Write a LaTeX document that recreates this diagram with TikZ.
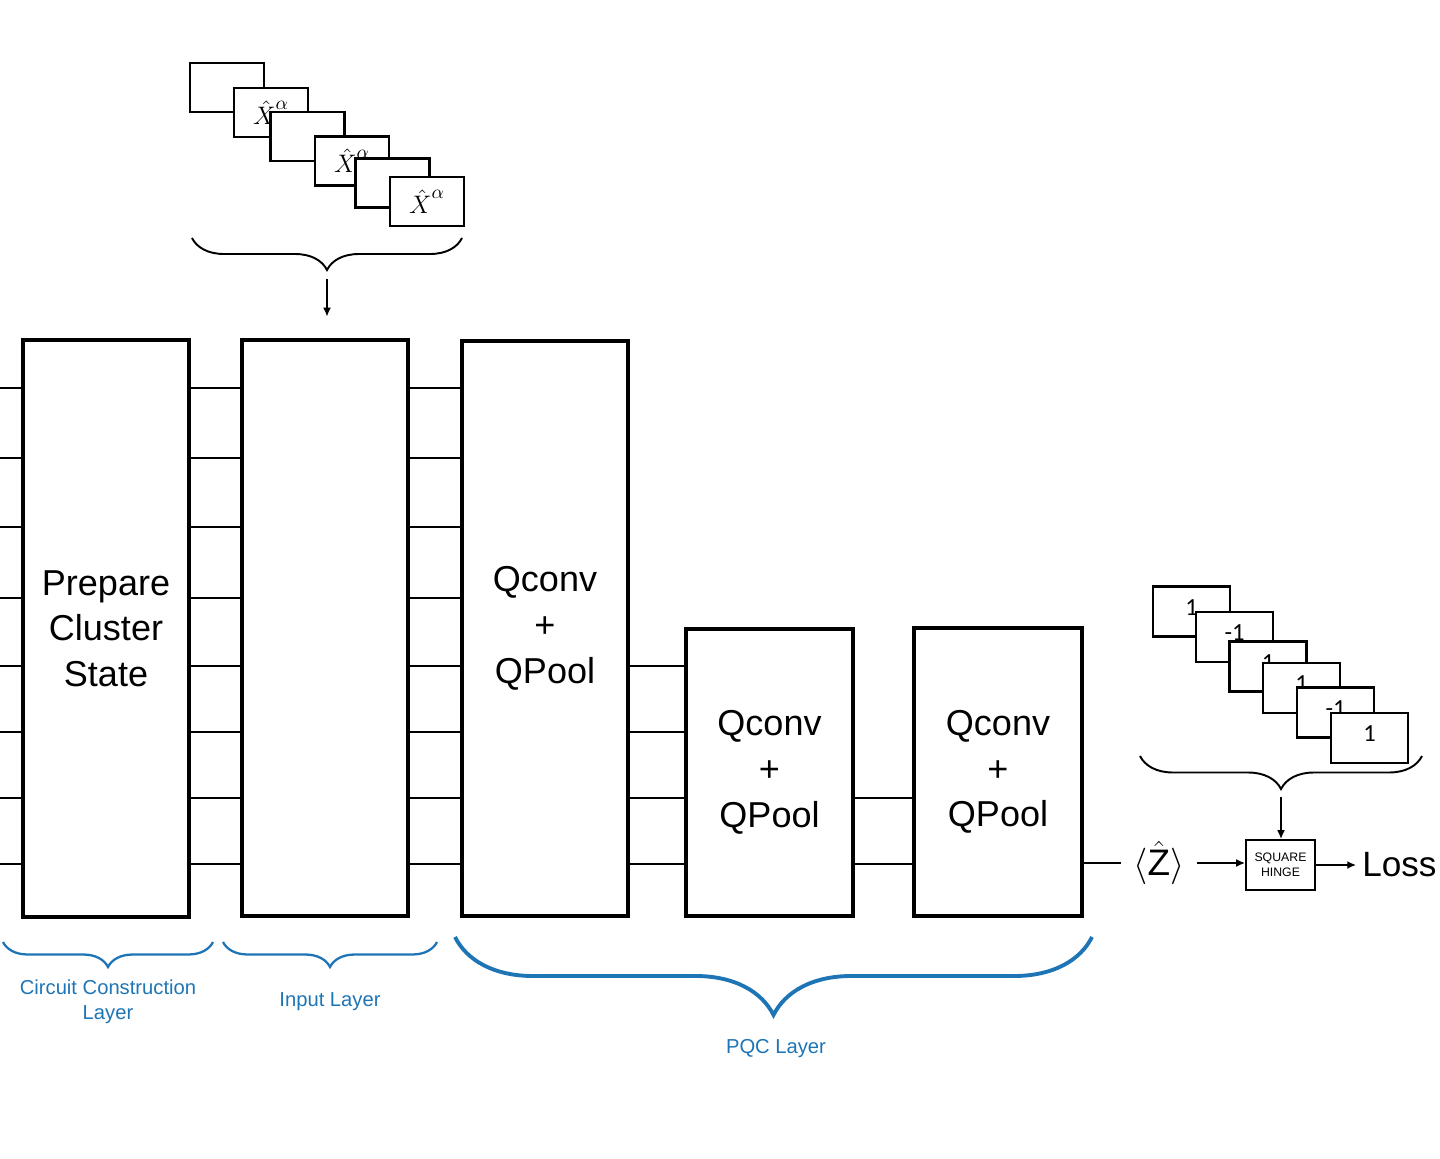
\documentclass[tikz,border=0pt]{standalone}
\usepackage{amsmath}
\usepackage{fontspec}
\setmainfont{Liberation Sans}
\newfontfamily\numfont{Carlito}
\usetikzlibrary{arrows.meta, calc, positioning, decorations.pathreplacing}
\definecolor{layerblue}{RGB}{30,117,182}
\tikzset {
    block/.style = {
        draw,
        shape = rectangle,
        line width = 1.8pt,
        fill = white,
        align = center,
        inner sep = 0pt,
        font = \fontsize{20.5}{26}\selectfont
    },
    card/.style = {
        draw,
        shape = rectangle,
        line width = 1.3pt,
        fill = white,
        minimum width = 1.48cm,
        minimum height = 0.98cm,
        inner sep = 0pt
    },
    xcard/.style = {
        card,
        label = {[font=\fontsize{15}{15}\selectfont]center:$\hat{X}^{\raisebox{0.4ex}{$\scriptstyle\alpha$}}$} % Same label on every such card
    },
    label card/.style = {
        card,
        minimum width = 1.54cm,
        minimum height = 1.0cm,
        text depth = 0.16cm,
        font = \numfont\fontsize{14}{14}\selectfont
    },
    hinge/.style = {
        draw,
        shape = rectangle,
        line width = 1.2pt,
        minimum width = 1.38cm,
        minimum height = 1.0cm,
        inner sep = 0pt,
        align = center,
        font = \fontsize{7}{8.5}\selectfont
    },
    wire/.style = {
        line width = 1.5pt
    },
    arrow/.style = {
        -{Latex[length=5pt, width=4.5pt]},
        line width = 0.8pt
    },
    bracket/.style = {
        decorate,
        decoration = {brace, mirror, amplitude=#1},
        line width = 1.1pt
    },
    layer bracket/.style = {
        bracket = #1,
        draw = layerblue,
        line width = 1.3pt
    },
    layer text/.style = {
        text = layerblue,
        align = center,
        font = \fontsize{11.5}{14}\selectfont
    }
}
\begin{document}
\begin{tikzpicture}[x=0.02cm, y=-0.02cm]
    \useasboundingbox (0, 0) rectangle (1440, 1159);

    % Wire levels : also the free ends at the left edge
    \foreach \y [count=\i] in {388, 458, 527, 598, 666, 732, 798, 864}
        \coordinate (w\i) at (0, \y);

    % Main row : cluster state, input layer, three Qconv + QPool blocks
    \node [block, minimum width=3.32cm, minimum height=11.54cm] at (106, 628.5)   (prep)  {Prepare\\Cluster\\State};
    \node [block, minimum width=3.32cm, minimum height=11.52cm] at (325, 628)     (input) {};
    \node [block, minimum width=3.32cm, minimum height=11.50cm] at (545, 628.5)   (pqc1)  {Qconv\\+\\QPool};
    \node [block, minimum width=3.34cm, minimum height=5.74cm]  at (769.5, 772.5) (pqc2)  {Qconv\\+\\QPool};
    \node [block, minimum width=3.36cm, minimum height=5.76cm]  at (998, 772)     (pqc3)  {Qconv\\+\\QPool};

    \foreach \i in {1,...,8} {
        \draw [wire] (w\i)               -- (w\i -| prep.west);
        \draw [wire] (w\i -| prep.east)  -- (w\i -| input.west);
        \draw [wire] (w\i -| input.east) -- (w\i -| pqc1.west);
    }
    \foreach \i in {5,...,8}
        \draw [wire] (w\i -| pqc1.east) -- (w\i -| pqc2.west);
    \foreach \i in {7,8}
        \draw [wire] (w\i -| pqc2.east) -- (w\i -| pqc3.west);

    % Output : expectation value, loss
    \node [font=\fontsize{21}{24}\selectfont, inner xsep=7pt] at (1159, 863) (zhat) {$\langle\hat{\mathrm{Z}}\rangle$};
    \node [hinge] at (1280.5, 865) (sqhinge) {SQUARE\\HINGE};
    \node [right=0.8cm of sqhinge, font=\fontsize{20}{24}\selectfont] (loss) {Loss};

    \draw [wire]  (zhat.west -| pqc3.east) -- (zhat.west);
    \draw [arrow] (zhat.east) -- (zhat.east -| sqhinge.west);
    \draw [arrow] (sqhinge) -- (loss);

    % Stack of input cards
    \node [card]  at (227, 87.5)    (x1) {};
    \node [xcard] at (271, 112.5)   (x2) {};
    \node [card]  at (307.5, 136.5) (x3) {};
    \node [xcard] at (352, 161)     (x4) {};
    \node [card]  at (392.5, 183)   (x5) {};
    \node [xcard] at (427, 201.5)   (x6) {};

    \draw [bracket=0.64cm] (192, 238) -- (462, 238);
    \coordinate (xtip) at (327, 270);
    \draw [arrow, shorten <=0.18cm, shorten >=0.44cm] (xtip) -- (xtip |- input.north);

    % Stack of labels
    \node [label card] at (1191.5, 611.5) (y1) {1};
    \node [label card] at (1234.5, 637)   (y2) {-1};
    \node [label card] at (1268, 666.5)   (y3) {1};
    \node [label card] at (1301.5, 688)   (y4) {1};
    \node [label card] at (1335.5, 712.5) (y5) {-1};
    \node [label card] at (1369.5, 738)   (y6) {1};

    \draw [bracket=0.66cm] (1140, 756) -- (1422, 756);
    \coordinate (ytip) at (1281, 789);
    \draw [arrow, shorten <=0.16cm] (ytip) -- (ytip |- sqhinge.north);

    % Layer braces
    \draw [layer bracket=0.5cm] (3, 942)   -- (213, 942);
    \draw [layer bracket=0.5cm] (223, 942) -- (437, 942);
    \draw [layer bracket=1.56cm, line width=2.2pt] (455, 937) -- (1092, 937);

    \node [layer text] at (108, 1002) (cctext)  {Circuit Construction\\Layer};
    \node [layer text] at (330, 1002) (intext)  {Input Layer};
    \node [layer text] at (776, 1049) (pqctext) {PQC Layer};
\end{tikzpicture}
\end{document}
